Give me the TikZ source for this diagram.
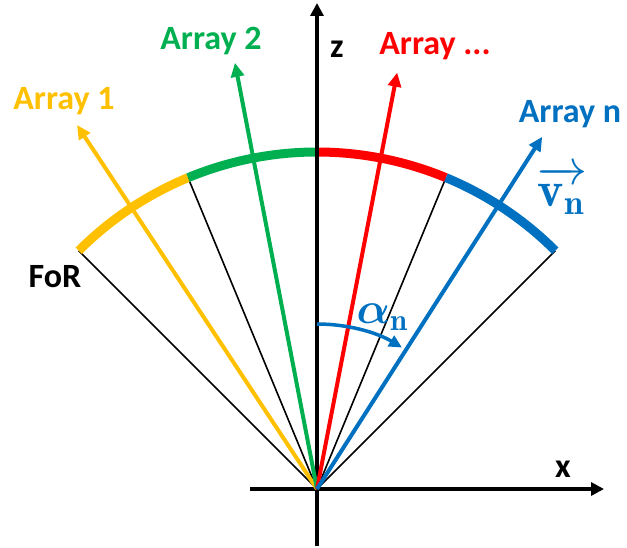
\documentclass[tikz,border=0pt]{standalone}
\usepackage{fontspec}
\setsansfont{Carlito}
\usepackage{amsmath,bm,graphicx}
\usetikzlibrary{arrows.meta,positioning}
\definecolor{yel}{HTML}{FFC000}
\definecolor{grn}{HTML}{00B050}
\definecolor{rd}{HTML}{FF0000}
\definecolor{blu}{HTML}{0070C0}
\begin{document}
\begin{tikzpicture}[x=1pt,y=1pt,
  seg/.style={line width=9pt},
  ray/.style={line width=1.6pt},
  arr/.style={line width=4pt,-{Triangle[length=14pt,width=13pt]}},
  axis/.style={line width=4pt,-{Triangle[length=13pt,width=13pt]}},
  lbl/.style={font=\sffamily\bfseries\fontsize{34}{38}\selectfont,anchor=base,inner sep=0pt},
  sym/.style={text=blu,inner sep=0pt}
]
\useasboundingbox (-317,-58) rectangle (310,489);
\coordinate (O) at (0,0);
\coordinate (xl) at (-67,0);
\coordinate (xr) at (287,0);
\coordinate (zb) at (0,-57);
\coordinate (zt) at (0,486);

\foreach \a in {45,67.5,112.5,135}
  \draw[ray] (O) -- (\a:337);
\foreach \a/\b/\c in {135/112.5/yel,112.5/90/grn,90/67.5/rd,67.5/45/blu}
  \draw[seg,\c] (\a:337) arc (\a:\b:337);

\draw[axis] (xl) -- (xr);
\draw[axis] (zb) -- (zt);

\coordinate (t1) at (123.4:436);
\coordinate (t2) at (100.9:434);
\coordinate (t3) at (79.1:424);
\coordinate (tn) at (57.4:418);
\draw[arr,yel] (O) -- (t1);
\draw[arr,grn] (O) -- (t2);
\draw[arr,rd] (O) -- (t3);
\draw[arr,blu] (O) -- (tn);

\coordinate (a0) at (90:165);
\coordinate (a1) at (59:165);
\draw[line width=3.5pt,blu,-{Triangle[length=13pt,width=12pt]}] (a0) arc (90:59:165);

\node[lbl,text=yel] (arr1) at (-253,379) {Array 1};
\node[lbl,text=grn] (arr2) at (-106,439) {Array 2};
\node[lbl,text=rd] (arr3) at (118,434) {Array ...};
\node[lbl,text=blu] (arrn) at (253,366) {Array n};
\node[lbl] (for) at (-262,202) {FoR};
\node[lbl] (zlab) at (20,431) {z};
\node[lbl] (xlab) at (246,12) {x};
\node[sym] (alpha) at (66,172) {\scalebox{4.4}{$\bm{\alpha}_{\mathbf{n}}$}};
\node[sym] (vn) at (245,299) {\scalebox{5}{$\overrightarrow{\mathbf{v}_{\mathbf{n}}}$}};
\end{tikzpicture}
\end{document}
